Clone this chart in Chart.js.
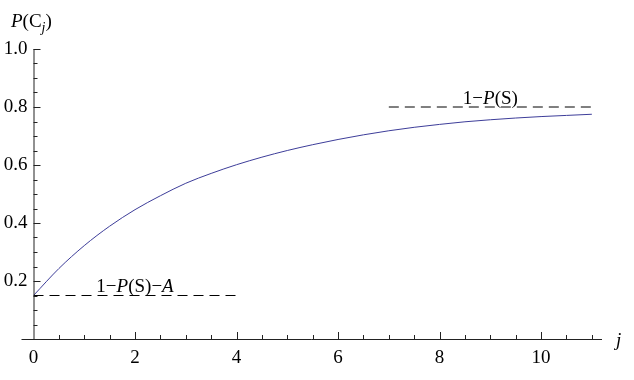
<!DOCTYPE html>
<html><head><meta charset="utf-8">
<script src="https://cdn.jsdelivr.net/npm/chart.js@4/dist/chart.umd.min.js"></script>
<style>html,body{margin:0;padding:0;background:#fff}#wrap{width:634px;height:380px}</style>
</head><body><div id="wrap"><canvas id="c" width="634" height="380"></canvas></div>
<script>
// Curve P(C_j)
const jValues = [0,0.5,1,1.5,2,2.5,3,3.5,4,4.5,5,5.5,6,6.5,7,7.5,8,8.5,9,9.5,10,10.5,11];
const pValues = [0.15,0.243,0.322,0.389,0.446,0.494,0.537,0.571,0.601,0.627,0.650,0.670,0.688,0.704,0.718,0.730,0.740,0.749,0.756,0.762,0.767,0.771,0.775];
// Reference levels
const lowerLevelX = [0,4];
const lowerLevelY = [0.15,0.15];
const upperLevelX = [7,11];
const upperLevelY = [0.8,0.8];
const xTickValues = [0,2,4,6,8,10];
const yTickValues = [0.2,0.4,0.6,0.8,1.0];

const FONT = "'Liberation Serif', 'Times New Roman', serif";
const toPts = (xs, ys) => xs.map((x,i)=>({x:x,y:ys[i]}));

function drawRuns(ctx, runs, x, y, size, align){
  let w = 0;
  runs.forEach(r=>{ctx.font=(r.i?'italic ':'')+(r.s||size)+'px '+FONT; w+=ctx.measureText(r.t).width;});
  let cx = align==='center'? x-w/2 : x;
  runs.forEach(r=>{
    ctx.font=(r.i?'italic ':'')+(r.s||size)+'px '+FONT;
    ctx.fillText(r.t, cx, y+(r.dy||0));
    cx += ctx.measureText(r.t).width;
  });
}

const axesPlugin = {
  id:'mAxes',
  afterDraw(chart){
    const ctx = chart.ctx, xs = chart.scales.x, ys = chart.scales.y;
    const x0 = xs.getPixelForValue(0), y0 = ys.getPixelForValue(0);
    ctx.save();
    ctx.strokeStyle = '#222'; ctx.lineWidth = 1;
    ctx.beginPath();
    ctx.moveTo(x0-12, y0+0.5); ctx.lineTo(xs.right, y0+0.5);
    ctx.moveTo(x0+0.5, y0); ctx.lineTo(x0+0.5, ys.getPixelForValue(1.0));
    for(let k=1;k<=22;k++){
      const v=k*0.5, px=Math.round(xs.getPixelForValue(v))+0.5, len=(k%4===0)?7:4;
      ctx.moveTo(px,y0); ctx.lineTo(px,y0-len);
    }
    for(let k=1;k<=20;k++){
      const v=k*0.05, py=Math.round(ys.getPixelForValue(v))+0.5, len=(k%4===0)?7:4;
      ctx.moveTo(x0,py); ctx.lineTo(x0+len,py);
    }
    ctx.stroke();
    ctx.fillStyle='#000'; ctx.textBaseline='alphabetic';
    drawRuns(ctx,[{t:'P',i:true},{t:'(C'},{t:'j',i:true,s:14,dy:5},{t:')'}],11,27,19,'left');
    drawRuns(ctx,[{t:'j',i:true}],616,346,19,'left');
    drawRuns(ctx,[{t:'1\u2212'},{t:'P',i:true},{t:'(S)\u2212'},{t:'A',i:true}],xs.getPixelForValue(2.0),ys.getPixelForValue(0.15)-4,19,'center');
    drawRuns(ctx,[{t:'1\u2212'},{t:'P',i:true},{t:'(S)'}],xs.getPixelForValue(9.0),ys.getPixelForValue(0.8)-3,19,'center');
    ctx.restore();
  }
};

new Chart(document.getElementById('c'),{
  type:'line',
  data:{datasets:[
    {data:toPts(jValues,pValues),borderColor:'#3d3d99',borderWidth:1,pointRadius:0,cubicInterpolationMode:'monotone',fill:false},
    {data:toPts(lowerLevelX,lowerLevelY),borderColor:'#000',borderWidth:1,borderDash:[10,6],pointRadius:0,fill:false},
    {data:toPts(upperLevelX,upperLevelY),borderColor:'#000',borderWidth:1,borderDash:[10,6],pointRadius:0,fill:false}
  ]},
  options:{
    responsive:false,animation:false,
    layout:{padding:{top:49,right:32,left:0,bottom:0}},
    plugins:{legend:{display:false},tooltip:{enabled:false}},
    scales:{
      x:{type:'linear',min:0,max:11.2,
        afterFit(s){s.height=41;},
        grid:{display:false,drawTicks:false},border:{display:false},
        afterBuildTicks(s){s.ticks=xTickValues.map(v=>({value:v}));},
        ticks:{padding:8,color:'#000',font:{family:FONT,size:19},maxRotation:0,autoSkip:false,callback:v=>String(v)}},
      y:{type:'linear',min:0,max:1,
        afterFit(s){s.width=33.5;},
        grid:{display:false,drawTicks:false},border:{display:false},
        afterBuildTicks(s){s.ticks=yTickValues.map(v=>({value:v}));},
        ticks:{padding:6,color:'#000',font:{family:FONT,size:19},autoSkip:false,callback:v=>v.toFixed(1)}}
    }
  },
  plugins:[axesPlugin]
});
</script></body></html>
